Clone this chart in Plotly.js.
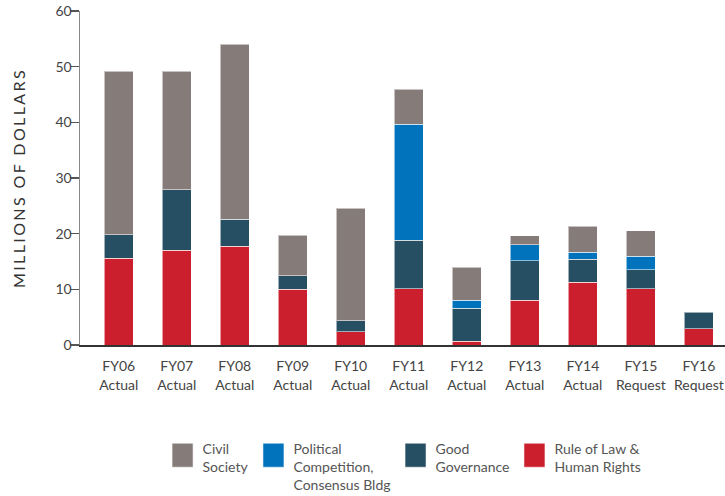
<!DOCTYPE html>
<html>
<head>
<meta charset="utf-8">
<script src="https://cdn.plot.ly/plotly-3.0.1.min.js"></script>
<style>
  html, body { margin: 0; padding: 0; background: #fff; }
  #chart { width: 725px; height: 496px; }
  .ytitle { letter-spacing: 2.4px; }
</style>
</head>
<body>
<div id="chart"></div>
<script>
const categories = ["FY06<br>Actual", "FY07<br>Actual", "FY08<br>Actual", "FY09<br>Actual", "FY10<br>Actual",
  "FY11<br>Actual", "FY12<br>Actual", "FY13<br>Actual", "FY14<br>Actual", "FY15<br>Request", "FY16<br>Request"];
const ruleOfLaw = [15.6, 17.0, 17.7, 10.0, 2.4, 10.1, 0.7, 8.0, 11.3, 10.1, 2.9];
const goodGovernance = [4.2, 10.9, 4.9, 2.4, 2.0, 8.7, 5.9, 7.1, 4.1, 3.4, 3.0];
const politicalCompetition = [null, null, null, null, null, 20.9, 1.4, 2.9, 1.3, 2.4, null];
const civilSociety = [29.4, 21.3, 31.4, 7.3, 20.2, 6.2, 6.0, 1.6, 4.6, 4.6, null];
const yTicks = [0, 10, 20, 30, 40, 50, 60];

const FONT = "Lato, 'Open Sans', sans-serif";
const edge = { color: "rgba(255,255,255,0.55)", width: 1 };

function bar(name, values, color) {
  return { type: "bar", name: name, x: categories, y: values,
    marker: { color: color, line: edge }, hoverinfo: "skip" };
}

const data = [
  bar("Rule of Law &amp;<br>Human Rights", ruleOfLaw, "#CC1F2D"),
  bar("Good<br>Governance", goodGovernance, "#264F63"),
  bar("Political<br>Competition,<br>Consensus Bldg", politicalCompetition, "#0073BC"),
  bar("Civil<br>Society", civilSociety, "#857B78")
];

const layout = {
  width: 725, height: 496,
  margin: { l: 80, r: 0, t: 11, b: 151, autoexpand: false },
  paper_bgcolor: "#fff", plot_bgcolor: "#fff",
  barmode: "stack", bargap: 0.5,
  font: { family: FONT, size: 14, color: "#444" },
  showlegend: true,
  legend: {
    orientation: "h", x: 0.128, y: 0.1278, yref: "container", xanchor: "left", yanchor: "top",
    traceorder: "reversed", valign: "top",
    font: { family: FONT, size: 14, color: "#555" },
    itemclick: false, itemdoubleclick: false
  },
  xaxis: {
    type: "category",
    range: [-0.667, 10.45],
    showline: true, linecolor: "#333", linewidth: 1.5,
    ticks: "", showgrid: false, zeroline: false,
    ticklabelstandoff: 8,
    tickfont: { family: FONT, size: 14, color: "#444" },
    fixedrange: true
  },
  yaxis: {
    range: [0, 60], tickvals: yTicks, ticktext: yTicks.map(String),
    showline: true, linecolor: "#888", linewidth: 1.5,
    ticks: "outside", ticklen: 9, tickcolor: "#555", tickwidth: 1.2,
    ticklabelstandoff: -5,
    showgrid: false, zeroline: false,
    tickfont: { family: FONT, size: 14, color: "#444" },
    title: { text: "MILLIONS OF DOLLARS", font: { family: FONT, size: 16, color: "#333" }, standoff: 26 },
    fixedrange: true
  }
};

Plotly.newPlot("chart", data, layout, { displayModeBar: false, staticPlot: true }).then(function (gd) {
  gd.querySelectorAll(".legend .legendpoints path").forEach(function (p) {
    p.setAttribute("d", "M-10.5,-5H10.5V19H-10.5Z");
  });
});
</script>
</body>
</html>
